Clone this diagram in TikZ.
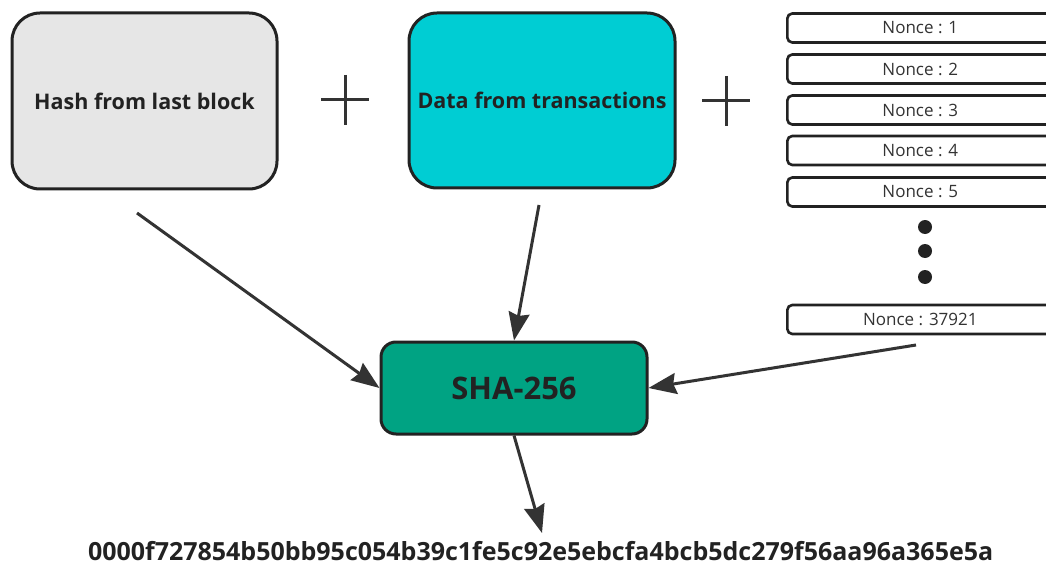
\documentclass[tikz,border=0pt]{standalone}
\usepackage{fontspec}
\setmainfont{Open Sans}
\usetikzlibrary{arrows.meta}
\definecolor{ink}{HTML}{222222}
\definecolor{linegray}{HTML}{333333}
\definecolor{hashgray}{HTML}{E6E6E6}
\definecolor{datacyan}{HTML}{00CDD3}
\definecolor{shagreen}{HTML}{00A383}
\begin{document}
\begin{tikzpicture}[x=1pt,y=-1pt,
  inputbox/.style={draw=ink, line width=3pt, rounded corners=28pt,
    minimum width=265pt, minimum height=176pt, inner sep=0pt,
    font=\bfseries\fontsize{21.5}{26}\selectfont, text=ink},
  shabox/.style={draw=ink, line width=3pt, rounded corners=15pt, fill=shagreen,
    minimum width=266pt, minimum height=92pt, inner sep=0pt,
    font=\bfseries\fontsize{31}{36}\selectfont, text=ink},
  noncebox/.style={draw=ink, line width=2.6pt, rounded corners=5pt,
    minimum width=266pt, minimum height=29pt, inner sep=0pt, anchor=west,
    font=\fontsize{17}{20}\selectfont, text=linegray},
  dotmark/.style={circle, fill=ink, minimum size=14pt, inner sep=0pt},
  plussign/.style={minimum width=48pt, minimum height=50pt, inner sep=0pt,
    path picture={\draw[line width=3pt, linegray]
      (path picture bounding box.west) -- (path picture bounding box.east)
      (path picture bounding box.north) -- (path picture bounding box.south);}},
  conn/.style={draw=linegray, line width=3pt,
    -{Stealth[length=28pt, width=21pt, inset=3pt]}}
]
\fill[white] (0,0) rectangle (1046,564);
\useasboundingbox (0,0) rectangle (1046,564);
\clip (0,0) rectangle (1046,564);

% inputs of the hash function
\node[inputbox, fill=hashgray] (prev) at (144.5,101) {Hash from last block};
\node[plussign] (plusA) at (345,100) {};
\node[inputbox, fill=datacyan, minimum width=266pt, minimum height=175pt] (data) at (542,100.5) {Data from transactions};
\node[plussign] (plusB) at (726,101) {};

% candidate nonces
\node[noncebox] (n1) at (786,28) {Nonce : 1};
\node[noncebox] (n2) at (786,69) {Nonce : 2};
\node[noncebox] (n3) at (786,110) {Nonce : 3};
\node[noncebox] (n4) at (786,150.5) {Nonce : 4};
\node[noncebox] (n5) at (786,192) {Nonce : 5};
\node[dotmark] (dA) at (925,227) {};
\node[dotmark] (dB) at (925,251) {};
\node[dotmark] (dC) at (925,277) {};
\node[noncebox] (nlast) at (786,319.5) {Nonce : 37921};

% hash function and its output
\node[shabox] (sha) at (514,388) {SHA-256};
\node[font=\bfseries\fontsize{25}{30}\selectfont, text=ink, inner sep=0pt, anchor=base]
  (digest) at (540.5,560) {0000f727854b50bb95c054b39c1fe5c92e5ebcfa4bcb5dc279f56aa96a365e5a};

% connector ends
\coordinate (fromPrev) at (137,213);
\coordinate (fromData) at (539,205);
\coordinate (fromNonce) at (916,345);
\coordinate (toDigest) at (542,533);

\draw[conn] (fromPrev) -- (sha.west);
\draw[conn] (fromData) -- (sha.north);
\draw[conn] (fromNonce) -- (sha.east);
\draw[conn] (sha.south) -- (toDigest);
\end{tikzpicture}
\end{document}
